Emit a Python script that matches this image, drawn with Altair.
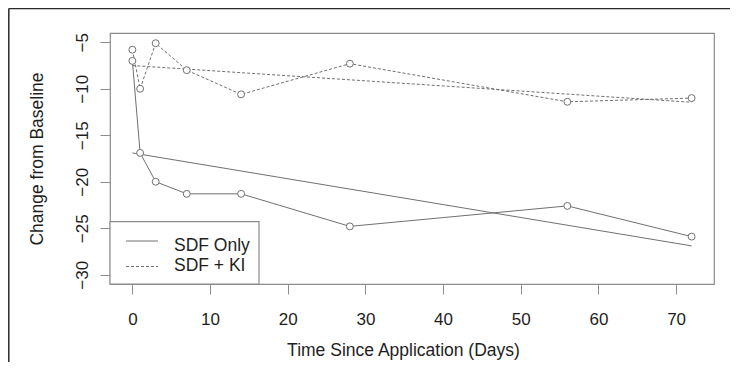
import altair as alt
import pandas as pd

# ---- data ----
days = [0, 1, 3, 7, 14, 28, 56, 72]
sdf_only = [-7.0, -16.9, -20.0, -21.3, -21.3, -24.8, -22.6, -25.9]
sdf_ki = [-5.8, -10.0, -5.1, -8.0, -10.6, -7.3, -11.4, -11.0]
trend_days = [0, 72]
trend_sdf_only = [-16.9, -26.9]
trend_sdf_ki = [-7.5, -11.45]
series_names = ["SDF Only", "SDF + KI"]
x_ticks = [0, 10, 20, 30, 40, 50, 60, 70]
y_ticks = [-30, -25, -20, -15, -10, -5]

FONT = "Liberation Sans"
LINE = "#707070"
BOX = "#8c8c8c"
TEXT = "#1e1e1e"
DASH = [3, 2]

W, H = 604, 251

x_enc = alt.X(
    "day:Q",
    scale=alt.Scale(domain=[-2.88, 74.88], nice=False, zero=False),
    axis=alt.Axis(
        values=x_ticks, domain=False, grid=False, ticks=True, tickSize=10,
        tickColor=BOX, tickWidth=1, labelFont=FONT, labelFontSize=17,
        labelColor=TEXT, labelPadding=30, labelBaseline="alphabetic",
        labelFlush=False, labelOverlap=False, labelBound=False,
        title="Time Since Application (Days)", titleFont=FONT, titleFontSize=17.5,
        titleFontWeight="normal", titleColor=TEXT, titleX=293, titleY=71,
        titleAlign="center", titleBaseline="alphabetic",
    ),
)
y_enc = alt.Y(
    "value:Q",
    scale=alt.Scale(domain=[-31, -4], nice=False, zero=False),
    axis=alt.Axis(
        values=y_ticks, domain=False, grid=False, ticks=True, tickSize=10,
        tickColor=BOX, tickWidth=1, labelFont=FONT, labelFontSize=17,
        labelColor=TEXT, labelPadding=13, labelAngle=270, labelAlign="center",
        labelBaseline="alphabetic", labelFlush=False, labelOverlap=False,
        labelBound=False,
        title="Change from Baseline", titleFont=FONT, titleFontSize=17.5,
        titleFontWeight="normal", titleColor=TEXT, titleAngle=270,
        titleX=-68, titleY=125.5, titleAlign="center", titleBaseline="alphabetic",
    ),
)

df_only = pd.DataFrame({"day": days, "value": sdf_only})
df_ki = pd.DataFrame({"day": days, "value": sdf_ki})
tr_only = pd.DataFrame({"day": trend_days, "value": trend_sdf_only})
tr_ki = pd.DataFrame({"day": trend_days, "value": trend_sdf_ki})
one = pd.DataFrame({"a": [0]})

layers = []

# outer figure frame (left and top edges only, as in the cropped reference)
layers.append(alt.Chart(one).mark_rule(color="#2a2a2a", strokeWidth=1.5).encode(
    x=alt.value(-101.2), y=alt.value(-24.5), y2=alt.value(H + 90)))
layers.append(alt.Chart(one).mark_rule(color="#2a2a2a", strokeWidth=1.5).encode(
    x=alt.value(-101.2), x2=alt.value(W + 30), y=alt.value(-24.5)))

# series lines
layers.append(alt.Chart(df_only).mark_line(color=LINE, strokeWidth=1).encode(x=x_enc, y=y_enc))
layers.append(alt.Chart(df_ki).mark_line(color=LINE, strokeWidth=1, strokeDash=DASH).encode(x=x_enc, y=y_enc))
# trend lines
layers.append(alt.Chart(tr_only).mark_line(color=LINE, strokeWidth=1).encode(x=x_enc, y=y_enc))
layers.append(alt.Chart(tr_ki).mark_line(color=LINE, strokeWidth=1, strokeDash=DASH).encode(x=x_enc, y=y_enc))
# open circles
for d in (df_only, df_ki):
    layers.append(alt.Chart(d).mark_point(
        shape="circle", size=48, fill="white", stroke=LINE, strokeWidth=1,
        opacity=1, fillOpacity=1).encode(x=x_enc, y=y_enc))

# legend box
layers.append(alt.Chart(one).mark_rect(fill="white", stroke=BOX, strokeWidth=1.2).encode(
    x=alt.value(0), x2=alt.value(149), y=alt.value(188.7), y2=alt.value(H)))
sample_y = [208, 233.5]
text_y = [218.3, 238.3]
dashes = [[1, 0], DASH]
for name, sy, ty, dsh in zip(series_names, sample_y, text_y, dashes):
    layers.append(alt.Chart(one).mark_rule(color=LINE, strokeWidth=1, strokeDash=dsh).encode(
        x=alt.value(16), x2=alt.value(48), y=alt.value(sy)))
    layers.append(alt.Chart(one).mark_text(
        font=FONT, fontSize=17.5, color=TEXT, align="left", baseline="alphabetic").encode(
        x=alt.value(64), y=alt.value(ty), text=alt.value(name)))

chart = alt.layer(*layers).properties(
    width=W, height=H,
    autosize=alt.AutoSizeParams(type="none"),
    padding={"left": 102, "top": 25, "right": 16, "bottom": 78},
    background="white",
).configure_view(stroke=BOX, strokeWidth=1.2)

chart.save("out.html", embed_options={"renderer": "svg", "actions": False})
